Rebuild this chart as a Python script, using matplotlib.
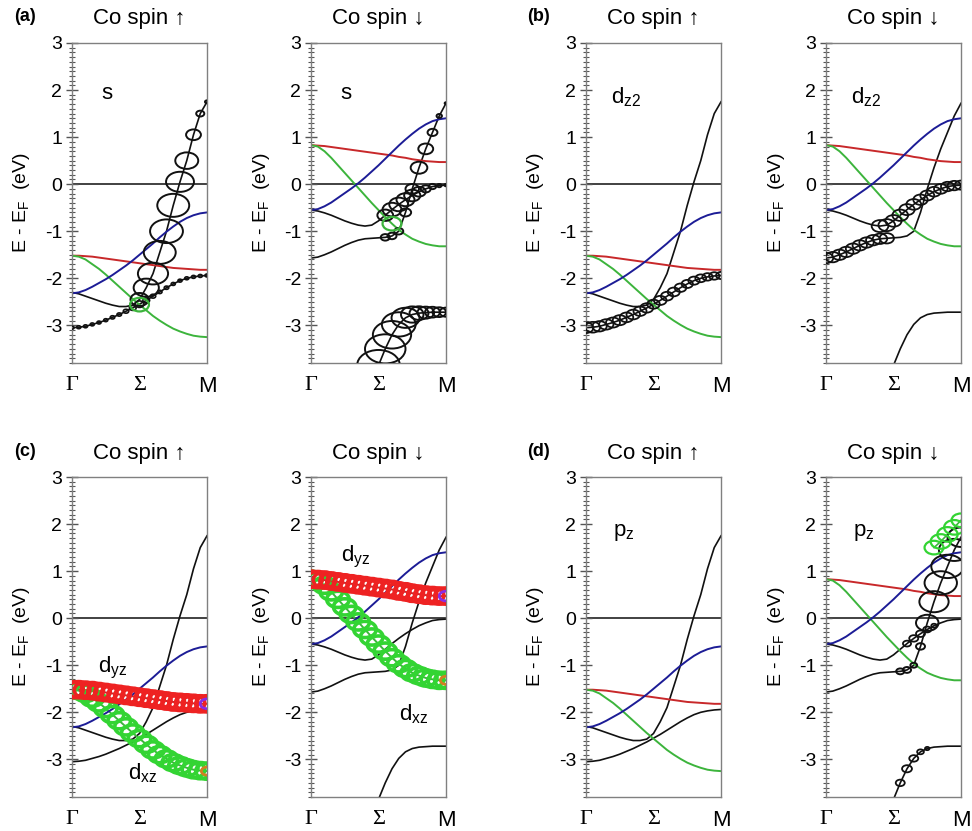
import numpy as np
import matplotlib
matplotlib.use('Agg')
import matplotlib.pyplot as plt
from matplotlib.path import Path
from matplotlib.transforms import Affine2D
from matplotlib.ticker import MultipleLocator, FixedLocator

plt.rcParams['font.family'] = ['Liberation Sans', 'DejaVu Sans']
plt.rcParams['mathtext.fontset'] = 'custom'
plt.rcParams['mathtext.rm'] = 'Liberation Sans'
plt.rcParams['mathtext.it'] = 'Liberation Sans'
plt.rcParams['axes.unicode_minus'] = False

nan = np.nan
# ---------------- data ----------------
k_points = np.linspace(0, 1, 21)          # Gamma -> Sigma -> M
k_label_pos = [0, 0.5, 1]
k_labels = ['Γ', 'Σ', 'M']
y_ticks = [-3, -2, -1, 0, 1, 2, 3]

# spin-up bands (eV)
up_black1 = [-3.05, -3.04, -3.02, -2.98, -2.94, -2.89, -2.83, -2.77, -2.70, -2.63, -2.55,
             -2.47, -2.38, -2.29, -2.20, -2.12, -2.05, -2.00, -1.97, -1.95, -1.94]
up_black2 = [-2.30, -2.33, -2.38, -2.43, -2.48, -2.53, -2.57, -2.60, -2.60, -2.57, -2.45,
             -2.20, -1.90, -1.45, -1.00, -0.45, 0.05, 0.50, 1.05, 1.50, 1.75]
up_red = [-1.52, -1.52, -1.53, -1.54, -1.56, -1.58, -1.60, -1.62, -1.64, -1.66, -1.68,
          -1.70, -1.72, -1.74, -1.76, -1.78, -1.79, -1.80, -1.81, -1.82, -1.82]
up_green = [-1.52, -1.54, -1.60, -1.70, -1.80, -1.92, -2.05, -2.18, -2.31, -2.44, -2.56,
            -2.68, -2.80, -2.90, -2.99, -3.07, -3.13, -3.18, -3.22, -3.24, -3.25]
up_blue = [-2.32, -2.30, -2.25, -2.18, -2.10, -2.02, -1.93, -1.83, -1.73, -1.62, -1.50,
           -1.38, -1.26, -1.13, -1.01, -0.90, -0.80, -0.72, -0.66, -0.62, -0.60]

# spin-down bands (eV)
dn_blackA = [-0.55, -0.57, -0.61, -0.66, -0.72, -0.78, -0.83, -0.87, -0.89, -0.87, -0.78,
             -0.66, -0.54, -0.43, -0.33, -0.24, -0.16, -0.10, -0.05, -0.03, -0.02]
dn_blackB = [-1.57, -1.55, -1.50, -1.44, -1.37, -1.30, -1.24, -1.19, -1.16, -1.15, -1.14,
             -1.13, -1.10, -1.00, -0.60, -0.10, 0.35, 0.75, 1.10, 1.45, 1.72]
dn_blackC = [nan, nan, nan, nan, nan, nan, nan, -5.00, -4.60, -4.20, -3.85,
             -3.50, -3.20, -2.98, -2.84, -2.77, -2.74, -2.73, -2.72, -2.72, -2.72]
dn_red = [0.83, 0.82, 0.81, 0.79, 0.77, 0.75, 0.73, 0.71, 0.69, 0.67, 0.65,
          0.63, 0.61, 0.58, 0.56, 0.53, 0.51, 0.49, 0.48, 0.47, 0.47]
dn_green = [0.83, 0.80, 0.70, 0.56, 0.40, 0.24, 0.08, -0.08, -0.24, -0.40, -0.55,
            -0.70, -0.84, -0.97, -1.07, -1.16, -1.22, -1.27, -1.30, -1.32, -1.32]
dn_blue = [-0.55, -0.53, -0.47, -0.39, -0.29, -0.19, -0.09, 0.02, 0.14, 0.27, 0.40,
           0.54, 0.68, 0.82, 0.95, 1.07, 1.18, 1.27, 1.34, 1.38, 1.40]
dn_green_hi = [nan] * 16 + [1.50, 1.63, 1.78, 1.93, 2.08]

# orbital weights (projected character) on the same k grid
w_s_up_black1 = [.09, .09, .09, .09, .09, .09, .10, .10, .12, .15, .20,
                 .15, .12, .10, .10, .09, .09, .09, .09, .09, .09]
w_s_up_black2 = [0] * 10 + [.40, .56, .67, .71, .73, .71, .62, .51, .33, .18, .09]
w_s_up_green = [0] * 10 + [.42] + [0] * 10
w_s_dn_blackA = [0] * 11 + [.35, .42, .42, .40, .36, .30, .22, .16, .10, .07]
w_s_dn_blackB = [0] * 11 + [.20, .20, .20, .25, .30, .37, .33, .22, .12, .06]
w_s_dn_green = [0] * 12 + [.42] + [0] * 8
w_s_dn_blackC = [0] * 7 + [1.0, 1.0, 1.0, .95, .90, .85, .75, .62, .50, .42, .37, .33, .30, .28]

w_dz2_up_black1 = [.33, .33, .32, .32, .31, .31, .30, .30, .29, .29, .28,
                   .28, .27, .27, .26, .25, .25, .24, .23, .23, .22]
w_dz2_dn_blackB = [.32] * 10 + [0] * 11
w_dz2_dn_blackA = [0] * 8 + [.37, .37, .36, .35, .34, .33, .32, .31, .30, .30, .29, .29, .28]

w_dyz_red = [.50] * 21
w_dxz_green = [.50] * 21
w_end_purple = [0] * 20 + [.30]
w_end_orange = [0] * 20 + [.25]

w_pz_dn_blackB = [0] * 11 + [.18, .18, .15, .20, .50, .65, .72, .72, .68, .60]
w_pz_dn_blackA = [0] * 12 + [.18, .20, .20, .18, .12, 0, 0, 0, 0]
w_pz_dn_blackC = [0] * 11 + [.20, .22, .20, .15, .10, 0, 0, 0, 0, 0]
w_pz_dn_green_hi = [0] * 16 + [.42, .45, .45, .45, .42]

# ---------------- styling ----------------
BLACK = '#111111'
RED = '#c8282a'
GREEN = '#3cb43c'
BLUE = '#1c1c96'
FAT_RED = '#ee2222'
FAT_GREEN = '#33d433'
PURPLE = '#8a2be2'
ORANGE = '#d08020'

up_bands = [(up_black1, BLACK), (up_black2, BLACK), (up_red, RED), (up_green, GREEN), (up_blue, BLUE)]
dn_bands = [(dn_blackA, BLACK), (dn_blackB, BLACK), (dn_blackC, BLACK), (dn_red, RED), (dn_green, GREEN), (dn_blue, BLUE)]

panels = [
    dict(col=0, row=0, spin='up', letter='(a)', labels=[('s', 0.26, 1.93)],
         fat=[(up_black1, w_s_up_black1, BLACK, 1.2), (up_black2, w_s_up_black2, BLACK, 1.4),
              (up_green, w_s_up_green, GREEN, 1.6)]),
    dict(col=1, row=0, spin='dn', letter=None, labels=[('s', 0.26, 1.93)],
         fat=[(dn_blackA, w_s_dn_blackA, BLACK, 1.4), (dn_blackB, w_s_dn_blackB, BLACK, 1.4),
              (dn_blackC, w_s_dn_blackC, BLACK, 1.4), (dn_green, w_s_dn_green, GREEN, 1.6)]),
    dict(col=2, row=0, spin='up', letter='(b)', labels=[('d$_{\\mathregular{z2}}$', 0.3, 1.85)],
         fat=[(up_black1, w_dz2_up_black1, BLACK, 1.3)]),
    dict(col=3, row=0, spin='dn', letter=None, labels=[('d$_{\\mathregular{z2}}$', 0.3, 1.85)],
         fat=[(dn_blackB, w_dz2_dn_blackB, BLACK, 1.3), (dn_blackA, w_dz2_dn_blackA, BLACK, 1.3)]),
    dict(col=0, row=1, spin='up', letter='(c)',
         labels=[('d$_{\\mathregular{yz}}$', 0.3, -1.05), ('d$_{\\mathregular{xz}}$', 0.52, -3.3)],
         fat=[(up_green, w_dxz_green, FAT_GREEN, 2.6), (up_red, w_dyz_red, FAT_RED, 2.6),
              (up_red, w_end_purple, PURPLE, 2.0), (up_green, w_end_orange, ORANGE, 2.0)]),
    dict(col=1, row=1, spin='dn', letter=None,
         labels=[('d$_{\\mathregular{yz}}$', 0.33, 1.3), ('d$_{\\mathregular{xz}}$', 0.76, -2.05)],
         fat=[(dn_green, w_dxz_green, FAT_GREEN, 2.6), (dn_red, w_dyz_red, FAT_RED, 2.6),
              (dn_red, w_end_purple, PURPLE, 2.0), (dn_green, w_end_orange, ORANGE, 2.0)]),
    dict(col=2, row=1, spin='up', letter='(d)', labels=[('p$_{\\mathregular{z}}$', 0.28, 1.82)],
         fat=[]),
    dict(col=3, row=1, spin='dn', letter=None, labels=[('p$_{\\mathregular{z}}$', 0.28, 1.82)],
         fat=[(dn_blackB, w_pz_dn_blackB, BLACK, 1.4), (dn_blackA, w_pz_dn_blackA, BLACK, 1.3),
              (dn_blackC, w_pz_dn_blackC, BLACK, 1.3), (dn_green_hi, w_pz_dn_green_hi, FAT_GREEN, 1.6)]),
]

W, H = 972, 831
fig = plt.figure(figsize=(W / 100, H / 100), dpi=100)
col_left = [72, 311, 586, 826]
ax_w = 135
row_top = [43, 477]
ax_h = 320
MAXW_PT = 45 * 0.72
ell = Path.unit_circle().transformed(Affine2D().scale(1.0, 0.72))

for p in panels:
    l = col_left[p['col']]
    t = row_top[p['row']]
    ax = fig.add_axes([l / W, 1 - (t + ax_h) / H, ax_w / W, ax_h / H])
    ax.set_xlim(0, 1)
    ax.set_ylim(-3.8, 3)
    bands = up_bands if p['spin'] == 'up' else dn_bands
    ax.axhline(0, color='#333333', lw=1.3, zorder=1)
    for vals, c in bands:
        ax.plot(k_points, vals, color=c, lw=1.2 if c == BLACK else 1.4, zorder=2)
    if p['spin'] == 'dn' and p['col'] == 3 and p['row'] == 1:
        ax.plot(k_points, dn_green_hi, color=GREEN, lw=1.2, zorder=2)
    for vals, w, c, lw in p['fat']:
        v = np.array(vals, dtype=float)
        ww = np.array(w, dtype=float)
        m = (ww > 0) & ~np.isnan(v)
        ax.scatter(k_points[m], v[m], s=(ww[m] * MAXW_PT) ** 2, marker=ell,
                   facecolors='none', edgecolors=c, linewidths=lw, zorder=3)
    for txt, x, y in p['labels']:
        ax.text(x, y, txt, fontsize=16, ha='center', va='center', zorder=5)
    # axes styling
    for sp in ax.spines.values():
        sp.set_color('#808080')
        sp.set_linewidth(1.0)
    ax.yaxis.set_major_locator(FixedLocator(y_ticks))
    ax.yaxis.set_minor_locator(MultipleLocator(0.1))
    ax.tick_params(axis='y', which='major', direction='inout', length=8, width=1,
                   color='#555555', labelsize=14, pad=3)
    ax.tick_params(axis='y', which='minor', direction='inout', length=5, width=0.8,
                   color='#555555')
    ax.set_xticks(k_label_pos)
    ax.set_xticklabels(k_labels)
    ax.tick_params(axis='x', length=0, pad=9, labelsize=16)
    for lab in ax.get_xticklabels()[:2]:
        lab.set_family(['Liberation Serif', 'DejaVu Serif'])
    ax.text(-50 / ax_w, 0.5, 'E - E$_{\\mathregular{F}}$  (eV)', transform=ax.transAxes,
            rotation=90, ha='center', va='center', fontsize=14)
    arrow = '↑' if p['spin'] == 'up' else '↓'
    ax.text(0.5, 1 + 24 / ax_h, 'Co spin ' + arrow, transform=ax.transAxes,
            ha='center', va='center', fontsize=16)
    if p['letter']:
        ax.text(-47 / ax_w, 1 + 26 / ax_h, p['letter'], transform=ax.transAxes,
                ha='center', va='center', fontsize=13, fontweight='bold')

fig.savefig('out.png', dpi=100)
